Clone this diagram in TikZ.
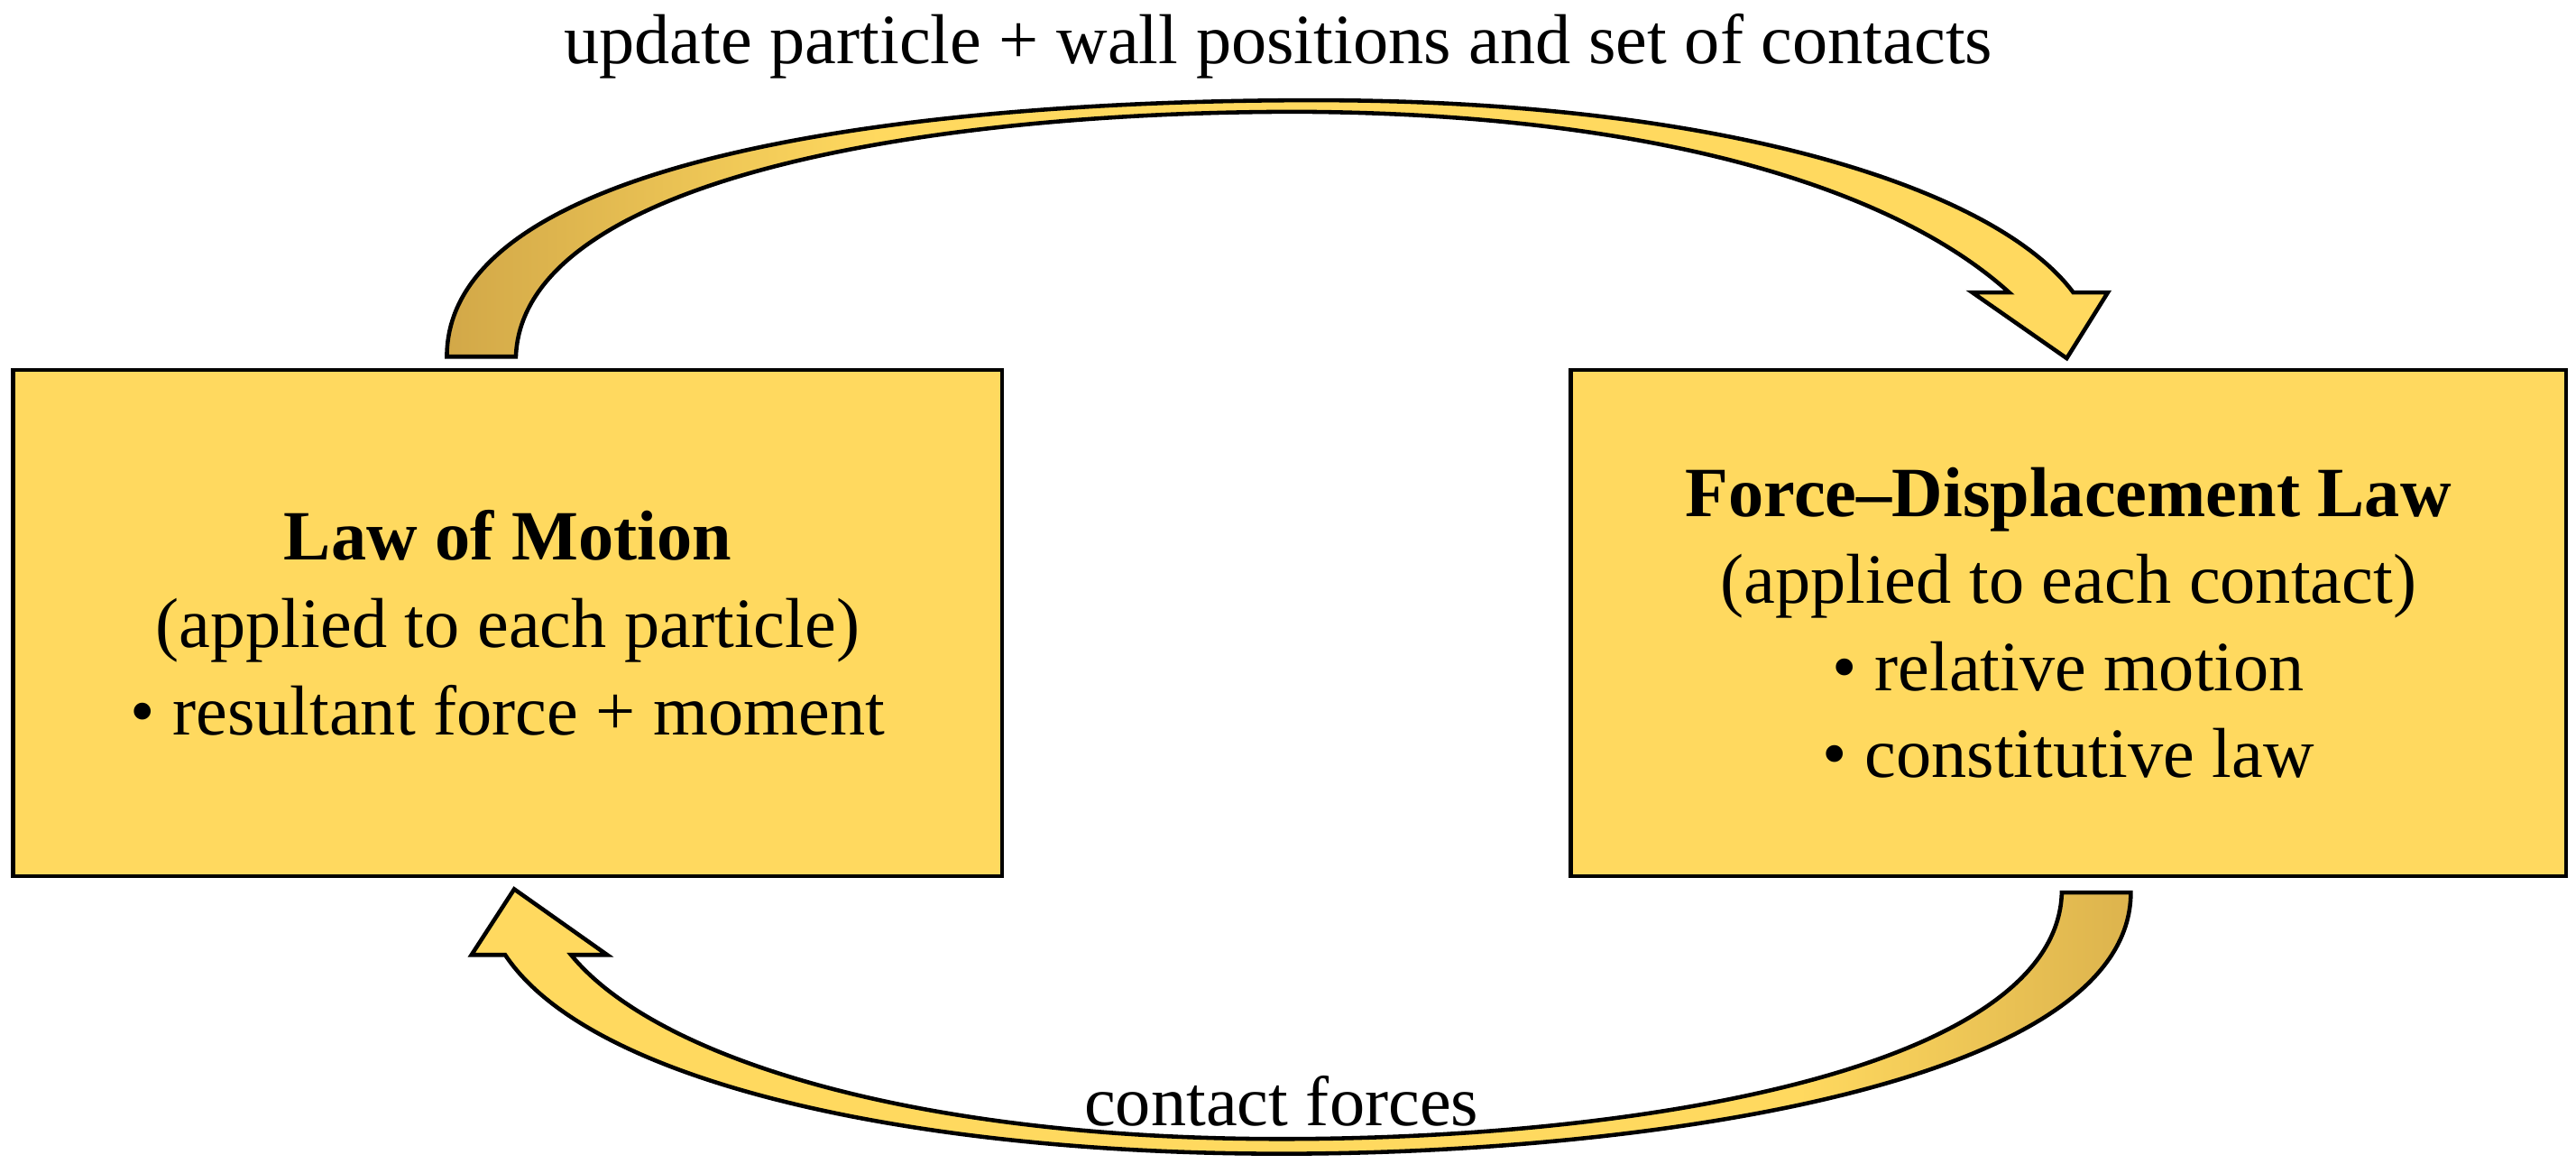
\documentclass[tikz,border=0pt]{standalone}
\usepackage{fontspec}
\setmainfont{Liberation Serif}
\definecolor{lt}{HTML}{FFD95F}
\definecolor{dk}{HTML}{D2A848}
\pgfdeclarehorizontalshading{topsh}{100bp}{color(0bp)=(dk); color(25bp)=(dk); color(38bp)=(lt); color(100bp)=(lt)}
\pgfdeclarehorizontalshading{botsh}{100bp}{color(0bp)=(lt); color(65bp)=(lt); color(78bp)=(dk); color(100bp)=(dk)}
\begin{document}
\begin{tikzpicture}[x=1pt,y=-1pt,
  box/.style={draw=black,line width=2.5pt,fill=lt,minimum width=602pt,minimum height=308pt,align=center,font=\fontsize{43}{53}\selectfont},
  lbl/.style={font=\fontsize{43}{50}\selectfont},
  arr/.style={draw=black,line width=2.5pt,line join=miter}]
\useasboundingbox (0,0) rectangle (1568,708);
\node[box] (lm) at (309,379) {\textbf{Law of Motion}\\(applied to each particle)\\• resultant force + moment};
\node[box,minimum width=606pt] (fd) at (1259,379) {\textbf{Force–Displacement Law}\\(applied to each contact)\\• relative motion\\• constitutive law};
\node[lbl] (t1) at (778,28) {update particle + wall positions and set of contacts};
\node[lbl] (t2) at (780,670) {contact forces};
\path[arr,shading=topsh] (272,217) .. controls (272,95) and (560,61) .. (800,61)
  .. controls (1050,61) and (1215,115) .. (1262,178) -- (1283,178) -- (1258,218) -- (1200.6,178) -- (1223,178)
  .. controls (1150,112) and (1000,69) .. (790,68) .. controls (560,68) and (318,110) .. (314,217) -- cycle;
\path[arr,shading=botsh] (1297,543) .. controls (1297,660) and (1000,702) .. (780,702)
  .. controls (560,702) and (360,660) .. (307.5,581) -- (287,581) -- (313,541) -- (369.6,581) -- (347.6,581)
  .. controls (400,645) and (560,693) .. (780,693) .. controls (1000,693) and (1252,650) .. (1255,543) -- cycle;
\end{tikzpicture}
\end{document}
